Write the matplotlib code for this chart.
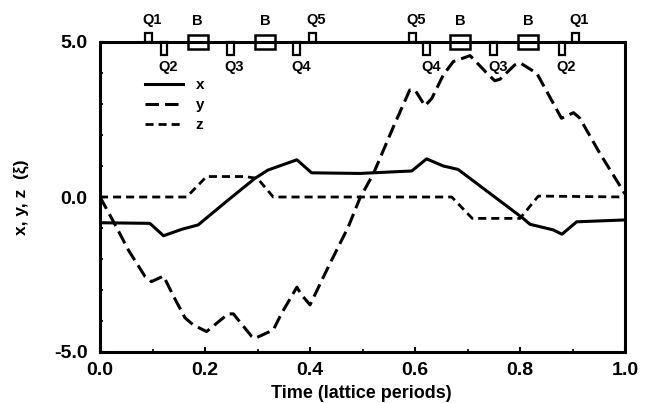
#!/usr/bin/env python3

import matplotlib
matplotlib.use("Agg")
import matplotlib.pyplot as plt
from matplotlib.patches import Rectangle

plt.rcParams["font.family"] = ["Liberation Sans", "DejaVu Sans"]
plt.rcParams["font.weight"] = "bold"

x_time = [0.0, 0.095, 0.121, 0.156, 0.187, 0.244, 0.295, 0.32, 0.375, 0.403, 0.495, 0.594, 0.622,
          0.654, 0.682, 0.806, 0.819, 0.863, 0.88, 0.908, 1.0]
x_vals = [-0.83, -0.85, -1.25, -1.04, -0.9, -0.1, 0.6, 0.87, 1.2, 0.78, 0.76, 0.84, 1.23,
          1.0, 0.89, -0.69, -0.88, -1.06, -1.2, -0.8, -0.74]

y_time = [0.0, 0.029, 0.054, 0.086, 0.098, 0.121, 0.14, 0.162, 0.178, 0.203, 0.244, 0.254, 0.289, 0.295,
          0.33, 0.346, 0.375, 0.384, 0.40, 0.435, 0.473, 0.495, 0.521, 0.559, 0.59, 0.6, 0.619, 0.632,
          0.654, 0.673, 0.705, 0.74, 0.752, 0.762, 0.79, 0.8, 0.832, 0.879, 0.902, 0.914, 0.952, 1.0]
y_vals = [0.0, -0.9, -1.71, -2.57, -2.73, -2.55, -3.2, -3.9, -4.13, -4.34, -3.77, -3.77, -4.5, -4.56,
          -4.29, -3.75, -2.91, -3.16, -3.48, -2.25, -0.96, -0.04, 0.76, 2.27, 3.45, 3.45, 2.94, 3.18,
          3.94, 4.37, 4.56, 3.94, 3.75, 3.8, 4.26, 4.33, 3.99, 2.54, 2.72, 2.54, 1.41, 0.1]

z_time = [0.0, 0.165, 0.203, 0.276, 0.30, 0.33, 0.5, 0.67, 0.709, 0.80, 0.835, 1.0]
z_vals = [0.0, 0.0, 0.66, 0.66, 0.6, 0.0, 0.0, 0.0, -0.69, -0.69, 0.03, 0.0]

element_names = ["Q1", "Q2", "B", "Q3", "B", "Q4", "Q5", "Q5", "Q4", "B", "Q3", "B", "Q2", "Q1"]
element_pos = [0.092, 0.122, 0.186, 0.248, 0.314, 0.375, 0.404, 0.596, 0.622, 0.686, 0.75, 0.815, 0.88, 0.905]

fig = plt.figure(figsize=(6.53, 4.03), dpi=100)
ax = fig.add_axes([100 / 653, 1 - 352 / 403, 525 / 653, 310 / 403])

ax.plot(x_time, x_vals, color="black", lw=2.2, label="x")
ax.plot(y_time, y_vals, color="black", lw=2.2, dashes=(4.4, 2.0), label="y")
ax.plot(z_time, z_vals, color="black", lw=2.0, dashes=(2.9, 1.8), label="z")

ax.set_xlim(0, 1)
ax.set_ylim(-5, 5)
ax.set_xticks([0.0, 0.2, 0.4, 0.6, 0.8, 1.0])
ax.set_xticks([0.1, 0.3, 0.5, 0.7, 0.9], minor=True)
ax.set_yticks([-5.0, 0.0, 5.0])
ax.set_yticks([-4, -3, -2, -1, 1, 2, 3, 4], minor=True)
ax.set_yticklabels(["-5.0", "0.0", "5.0"])
ax.tick_params(axis="y", which="major", direction="in", length=3.5, width=1.5, labelsize=14, pad=9)
ax.tick_params(axis="x", which="major", direction="in", length=3.5, width=1.5, labelsize=14, pad=7.5)
ax.tick_params(which="minor", direction="in", length=2, width=1.2)
ax.set_xlabel("Time (lattice periods)", fontsize=13, fontweight="bold")
ax.set_ylabel("x, y, z  (ξ)", fontsize=12.5, fontweight="bold")
ax.xaxis.set_label_coords(0.497, -0.106)
ax.yaxis.set_label_coords(-0.135, 0.5)

for spine in ax.spines.values():
    spine.set_linewidth(2.2)

# lattice elements along the top edge, drawn in data coords
for name, pos in zip(element_names, element_pos):
    if name == "B":
        ax.add_patch(Rectangle((pos - 0.019, 4.77), 0.038, 0.46, fill=False, ec="black", lw=1.8, clip_on=False, zorder=5))
        ax.text(pos, 5.68, name, ha="center", va="center", fontsize=10.5, clip_on=False)
    elif name in ("Q1", "Q5"):
        ax.add_patch(Rectangle((pos - 0.0065, 5.0), 0.013, 0.29, fill=False, ec="black", lw=1.6, clip_on=False, zorder=5))
        ax.text(pos + 0.007, 5.71, name, ha="center", va="center", fontsize=10.5, clip_on=False)
    else:
        ax.add_patch(Rectangle((pos - 0.0065, 4.58), 0.013, 0.42, fill=False, ec="black", lw=1.6, clip_on=False, zorder=5))
        ax.text(pos + 0.008, 4.19, name, ha="center", va="center", fontsize=10.5, clip_on=False)

ax.legend(loc="upper left", bbox_to_anchor=(0.086, 0.884), frameon=False, fontsize=11,
          handlelength=2.5, labelspacing=0.4, handletextpad=0.8, borderpad=0, borderaxespad=0)

fig.savefig("out.png", dpi=100)
